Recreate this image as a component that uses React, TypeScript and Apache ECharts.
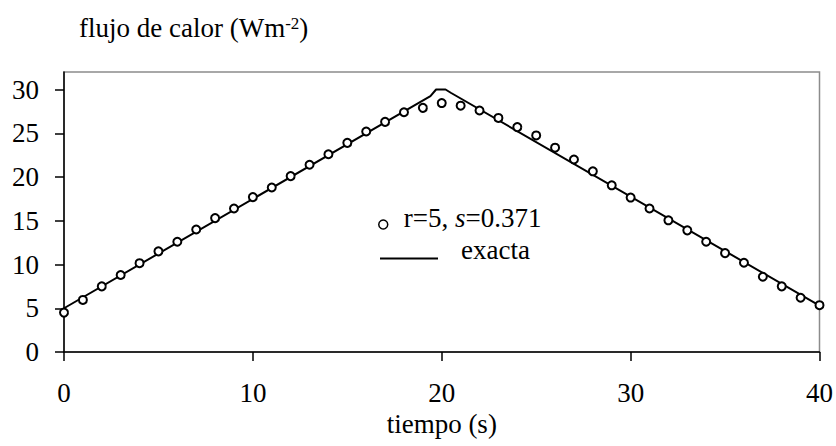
import React, { useEffect, useRef } from "react";
import * as echarts from "echarts";

// Sampled values (circles), r=5, s=0.371
const sampleTime = [0, 1, 2, 3, 4, 5, 6, 7, 8, 9, 10, 11, 12, 13, 14, 15, 16, 17, 18, 19, 20,
  21, 22, 23, 24, 25, 26, 27, 28, 29, 30, 31, 32, 33, 34, 35, 36, 37, 38, 39, 40];
const sampleFlux = [4.5, 5.95, 7.5, 8.8, 10.15, 11.5, 12.6, 14.0, 15.3, 16.4, 17.7, 18.8, 20.1, 21.4, 22.6, 23.9, 25.2, 26.3, 27.4, 27.9, 28.45,
  28.15, 27.6, 26.75, 25.7, 24.75, 23.35, 22.0, 20.65, 19.05, 17.65, 16.4, 15.05, 13.9, 12.6, 11.3, 10.2, 8.6, 7.5, 6.2, 5.35];

// Exact solution (solid line)
const exactTime = [0, 19.4, 19.7, 20.2, 20.5, 40];
const exactFlux = [5.0, 29.25, 30.0, 30.0, 29.6, 5.3];

const xTicks = [0, 10, 20, 30, 40];
const yTicks = [0, 5, 10, 15, 20, 25, 30];

const seriesSample = "r=5, s=0.371";
const seriesExact = "exacta";
const xTitle = "tiempo (s)";

const FONT = "serif";
const FS = 27;

export default function App() {
  const ref = useRef<HTMLDivElement>(null);
  useEffect(() => {
    if (!ref.current) return;
    const chart = echarts.init(ref.current, undefined, { renderer: "svg" });
    const labelStyle = { fontFamily: FONT, fontSize: FS, color: "#000" };
    const richN = { fontFamily: FONT, fontSize: FS, color: "#000" };
    chart.setOption({
      animation: false,
      backgroundColor: "#fff",
      textStyle: { fontFamily: FONT },
      grid: {
        left: 64,
        right: 16,
        top: 72,
        bottom: 94,
        show: true,
        borderColor: "#8c8c8c",
        borderWidth: 1.5,
        backgroundColor: "transparent",
      },
      graphic: [
        {
          type: "text",
          left: 79,
          top: 14,
          style: {
            text: "{a|flujo de calor (Wm}{b|-2}{a|)}",
            fontFamily: FONT,
            fontSize: FS,
            rich: {
              a: { fontFamily: FONT, fontSize: FS, fill: "#000" },
              b: { fontFamily: FONT, fontSize: 17, fill: "#000", padding: [0, 0, 8, 0] },
            },
          },
        },
      ],
      legend: [
        {
          data: [seriesSample],
          left: 378,
          top: 204,
          padding: 0,
          itemWidth: 9,
          itemHeight: 9,
          itemStyle: { borderWidth: 1.5, borderColor: "#000", color: "#fff", opacity: 1 },
          formatter: () => "{n|r=5, }{i|s}{n|=0.371}",
          textStyle: {
            ...labelStyle,
            padding: [0, 0, 14, 11],
            rich: {
              n: richN,
              i: { ...richN, fontStyle: "italic" },
            },
          },
        },
        {
          data: [{ name: seriesExact, icon: "rect" }],
          left: 380,
          top: 236,
          padding: 0,
          itemWidth: 58,
          itemHeight: 2,
          itemStyle: { color: "#000", opacity: 1 },
          formatter: (name: string) => `{n|${name}}`,
          textStyle: { ...labelStyle, padding: [0, 0, 18, 18], rich: { n: richN } },
        },
      ],
      xAxis: {
        type: "value",
        min: 0,
        max: 40,
        interval: 10,
        name: xTitle,
        nameLocation: "middle",
        nameGap: 55,
        nameTextStyle: labelStyle,
        axisLine: { show: true, lineStyle: { color: "#000", width: 1.5 } },
        axisTick: { show: true, inside: false, length: 9, lineStyle: { color: "#000", width: 1.5 }, customValues: xTicks },
        axisLabel: { ...labelStyle, margin: 27, customValues: xTicks },
        splitLine: { show: false },
      },
      yAxis: {
        type: "value",
        min: 0,
        max: 32,
        interval: 5,
        axisLine: { show: true, lineStyle: { color: "#000", width: 1.5 } },
        axisTick: { show: true, inside: false, length: 9, lineStyle: { color: "#000", width: 1.5 }, customValues: yTicks },
        axisLabel: { ...labelStyle, margin: 25, customValues: yTicks },
        splitLine: { show: false },
      },
      series: [
        {
          name: seriesExact,
          type: "line",
          data: exactTime.map((t, i) => [t, exactFlux[i]]),
          symbol: "none",
          showSymbol: false,
          smooth: false,
          lineStyle: { color: "#000", width: 2 },
          itemStyle: { color: "#000" },
          z: 2,
        },
        {
          name: seriesSample,
          type: "scatter",
          data: sampleTime.map((t, i) => [t, sampleFlux[i]]),
          symbol: "circle",
          symbolSize: 8,
          itemStyle: { color: "#fff", borderColor: "#000", borderWidth: 2, opacity: 1 },
          z: 3,
        },
      ],
    });
    return () => chart.dispose();
  }, []);
  return (
    <div
      ref={ref}
      style={{ position: "fixed", left: 0, top: 0, width: 836, height: 446, background: "#fff" }}
    />
  );
}
